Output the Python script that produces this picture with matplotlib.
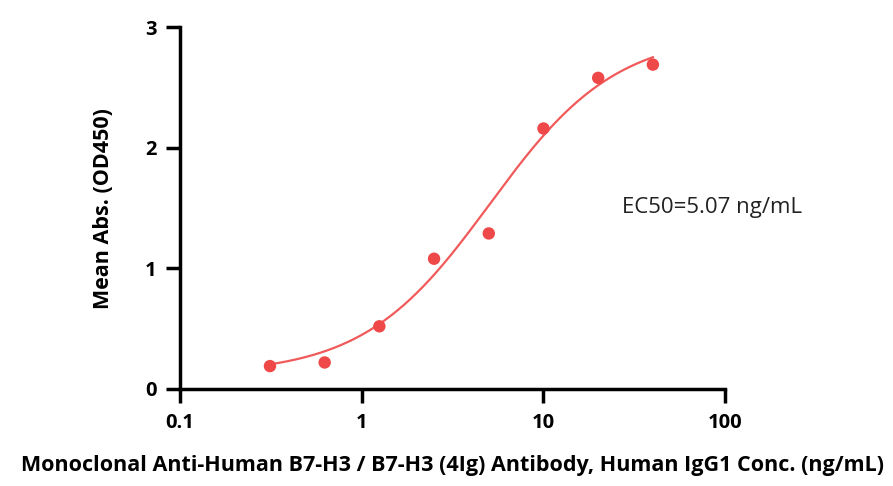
import numpy as np
import matplotlib
matplotlib.use("Agg")
import matplotlib.pyplot as plt

plt.rcParams['font.family'] = ['Open Sans', 'DejaVu Sans']

# ELISA dilution series (ng/mL) and mean OD450
conc = [0.3125, 0.625, 1.25, 2.5, 5, 10, 20, 40]
od450 = [0.19, 0.22, 0.52, 1.08, 1.29, 2.16, 2.58, 2.69]

# 4PL fit parameters
bottom = 0.12
top = 2.95
ec50 = 5.07
hill = 1.25

red = '#EF4848'

def four_pl(x):
    return bottom + (top - bottom) / (1 + (ec50 / x) ** hill)

fig = plt.figure(figsize=(8.93, 4.86), dpi=100)
ax = fig.add_axes([0.2016, 0.1996, 0.6105, 0.7444])

xs = np.logspace(np.log10(conc[0]), np.log10(conc[-1]), 300)
ax.plot(xs, four_pl(xs), color=red, lw=1.6, alpha=0.9)
ax.scatter(conc, od450, s=80, color=red, zorder=3, edgecolors='none')

ax.set_xscale('log')
ax.set_xlim(0.1, 100)
ax.set_ylim(0, 3)
ax.set_xticks([0.1, 1, 10, 100])
ax.set_xticklabels(['0.1', '1', '10', '100'])
ax.minorticks_off()
ax.set_yticks([0, 1, 2, 3])

for s in ['top', 'right']:
    ax.spines[s].set_visible(False)
for s in ['left', 'bottom']:
    ax.spines[s].set_linewidth(2.5)
ax.tick_params(axis='both', length=10, width=2.5, labelsize=14.5, pad=7)
for lab in ax.get_xticklabels() + ax.get_yticklabels():
    lab.set_fontweight('bold')

ax.set_ylabel('Mean Abs. (OD450)', fontsize=15.5, fontweight='bold', labelpad=22)
ax.set_xlabel('Monoclonal Anti-Human B7-H3 / B7-H3 (4Ig) Antibody, Human IgG1 Conc. (ng/mL)',
              fontsize=15.5, fontweight='bold', labelpad=16)

ax.text(0.81, 0.503, 'EC50=5.07 ng/mL', transform=ax.transAxes, fontsize=16,
        color='#222222', ha='left', va='center')

fig.savefig('out.png', dpi=100)
